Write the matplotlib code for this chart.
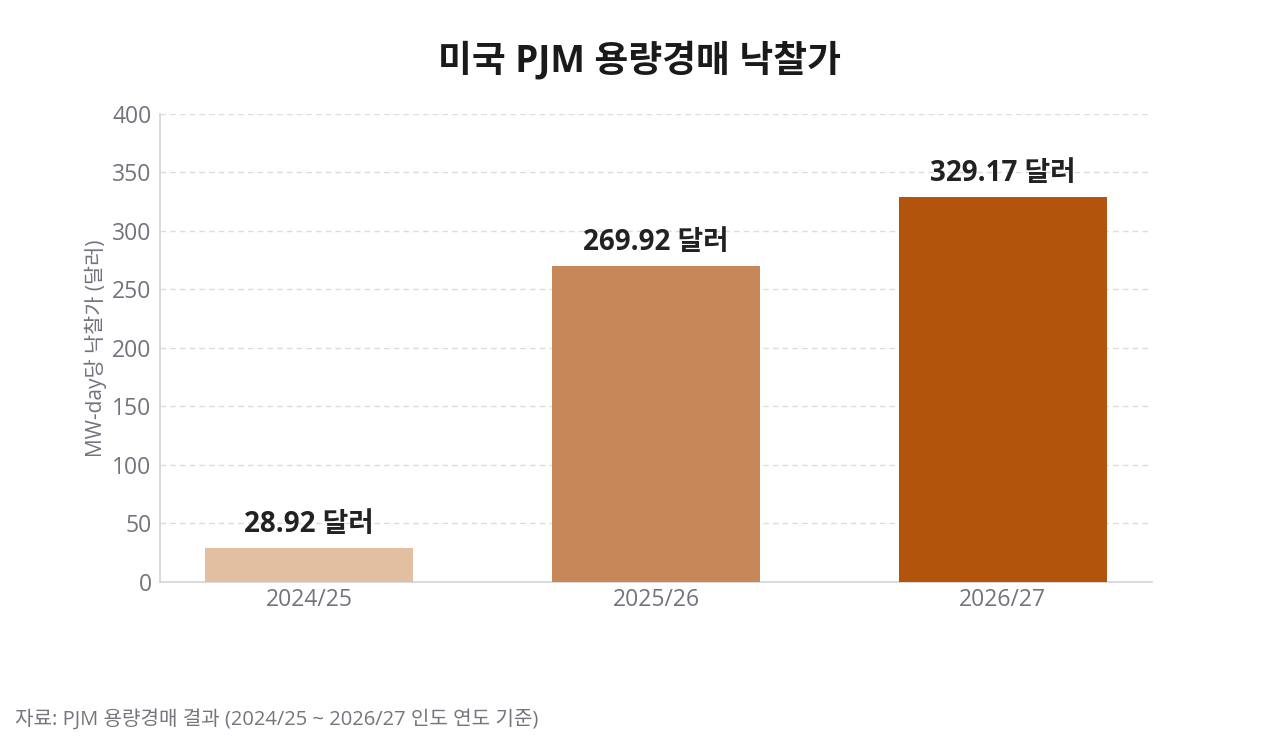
import matplotlib
matplotlib.use("Agg")
from matplotlib import pyplot as plt

plt.rcParams['font.family'] = ['Open Sans', 'Noto Sans CJK KR', 'DejaVu Sans']

# data
years = ['2024/25', '2025/26', '2026/27']
prices = [28.92, 269.92, 329.17]
labels = ['28.92 달러', '269.92 달러', '329.17 달러']
colors = ['#E2BFA1', '#C88758', '#B3540C']

fig = plt.figure(figsize=(12.8, 7.47), dpi=100)
ax = fig.add_axes([0.125, 0.2209, 0.775, 0.6265])

x = range(len(years))
ax.bar(x, prices, width=0.6, color=colors, zorder=3)

for i, v in enumerate(prices):
    ax.text(i, v + 8, labels[i], ha='center', va='bottom', fontsize=20,
            fontweight='bold', color='#222222', zorder=4)

ax.set_xlim(-0.43, 2.43)
ax.set_ylim(0, 400)
ax.set_yticks(range(0, 401, 50))
ax.set_xticks(list(x))
ax.set_xticklabels(years)
ax.tick_params(axis='both', length=0, labelsize=16.5, labelcolor='#73737d')
ax.tick_params(axis='x', pad=4)
ax.tick_params(axis='y', pad=6)

ax.grid(axis='y', linestyle=(0, (4, 3)), color='#dcdcdc', linewidth=1, zorder=0)
for s in ['top', 'right']:
    ax.spines[s].set_visible(False)
for s in ['left', 'bottom']:
    ax.spines[s].set_color('#d4d4d8')
    ax.spines[s].set_linewidth(1.2)

ax.set_ylabel('MW-day당 낙찰가 (달러)', fontsize=15, color='#73737d', labelpad=4)

fig.text(0.5, 0.918, '미국 PJM 용량경매 낙찰가', ha='center', va='center',
         fontsize=26.5, fontweight='bold', color='#1a1a1a')
fig.text(0.012, 0.037, '자료: PJM 용량경매 결과 (2024/25 ~ 2026/27 인도 연도 기준)',
         ha='left', va='center', fontsize=14.5, color='#75757d')

plt.savefig('out.png', dpi=100)
